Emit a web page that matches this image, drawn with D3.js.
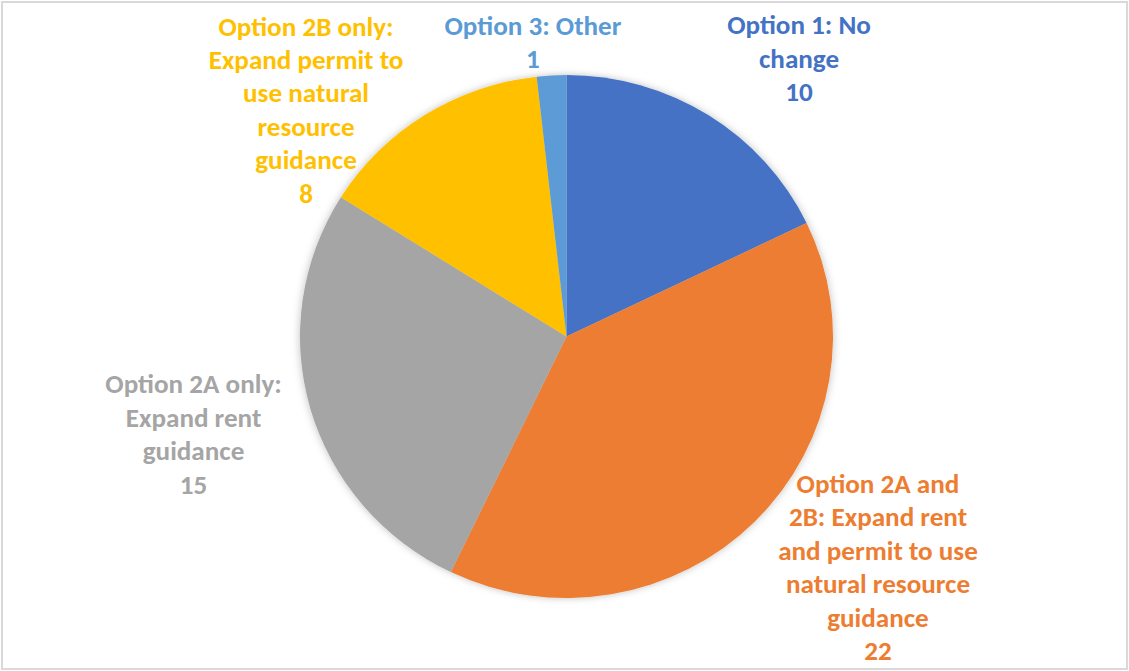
<!DOCTYPE html>
<html><head><meta charset="utf-8">
<script src="https://cdn.jsdelivr.net/npm/d3@7"></script>
<style>body{margin:0;background:#fff}svg{display:block}</style>
</head><body><svg id="c" width="1129" height="671"></svg>
<script>
const categories = ["Option 1: No change","Option 2A and 2B: Expand rent and permit to use natural resource guidance","Option 2A only: Expand rent guidance","Option 2B only: Expand permit to use natural resource guidance","Option 3: Other"];
const values = [10, 22, 15, 8, 1];
const labelLines = [
  ["Option 1: No","change"],
  ["Option 2A and","2B: Expand rent","and permit to use","natural resource","guidance"],
  ["Option 2A only:","Expand rent","guidance"],
  ["Option 2B only:","Expand permit to","use natural","resource","guidance"],
  ["Option 3: Other"]
];
const colors = ["#4472C4","#ED7D31","#A5A5A5","#FFC000","#5B9BD5"];
// label placement: polar (degrees clockwise from top, distance) from pie centre to label block centre
const labelPolar = [[39.86,362.8],[126.5,387.5],[255.35,385.5],[311.07,345.5],[353.5,296.4]];

const W=1129,H=671, cx=566.5, cy=336.5, R=266.5, yScale=261.5/266.5;
const svg=d3.select("#c");
svg.append("rect").attr("x",2).attr("y",2).attr("width",W-4).attr("height",H-4)
  .attr("fill","#fff").attr("stroke","#d9d9d9").attr("stroke-width",2);
const defs=svg.append("defs");
const f=defs.append("filter").attr("id","sh").attr("x","-20%").attr("y","-20%").attr("width","140%").attr("height","140%");
f.append("feDropShadow").attr("dx",0).attr("dy",0).attr("stdDeviation",4).attr("flood-color","#000").attr("flood-opacity",0.25);

const data = categories.map((c,i)=>({c,v:values[i],i}));
const pie=d3.pie().value(d=>d.v).sort(null);
const arc=d3.arc().innerRadius(0).outerRadius(R);
const g=svg.append("g").attr("transform",`translate(${cx},${cy}) scale(1,${yScale})`);
const gs=g.append("g").attr("filter","url(#sh)");
gs.selectAll("path").data(pie(data)).join("path").attr("d",arc).attr("fill",d=>colors[d.data.i]);

// font fitting
const fam="Calibri, Carlito, Lato, 'Open Sans', sans-serif";
const probe=svg.append("text").attr("font-family",fam).attr("font-weight","bold").attr("font-size",20).text("Option 3: Other");
const w20=probe.node().getComputedTextLength(); probe.remove();
const fs=20*177/w20;
const lh=33.4;
const lg=svg.append("g").attr("font-family",fam).attr("font-weight","bold").attr("font-size",fs).attr("text-anchor","middle");
data.forEach((d,i)=>{
  const lines=labelLines[i].concat([String(values[i])]);
  const [ang,dist]=labelPolar[i];
  const a=ang*Math.PI/180;
  const x=cx+dist*Math.sin(a), y=cy-dist*Math.cos(a);
  const top=y-(lines.length-1)*lh/2;
  const t=lg.append("text").attr("fill",colors[i]);
  lines.forEach((l,k)=>t.append("tspan").attr("x",x).attr("y",top+k*lh).attr("dy","0.35em").text(l));
});
</script></body></html>
